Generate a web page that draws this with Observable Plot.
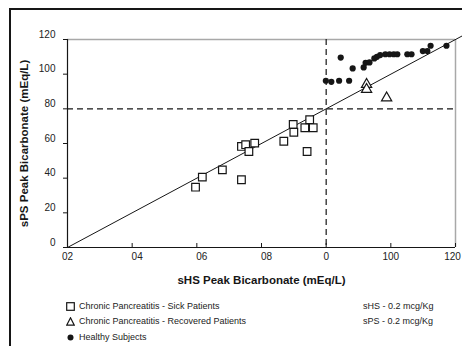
<!DOCTYPE html>
<html>
<head>
<meta charset="utf-8">
<script src="https://cdn.jsdelivr.net/npm/d3@7"></script>
<script src="https://cdn.jsdelivr.net/npm/@observablehq/plot@0.6"></script>
<style>
  html, body { margin: 0; padding: 0; background: #fff; }
  #wrap { position: relative; width: 462px; height: 346px; overflow: hidden; font-family: "Liberation Sans", Arial, sans-serif; color: #222; }
  #border { position: absolute; left: 9px; top: 8px; width: 600px; height: 500px; border: 2px solid #161616; box-sizing: border-box; }
  #chart { position: absolute; left: 0; top: 0; }
  .row { position: absolute; font-size: 9px; line-height: 12px; white-space: nowrap; display: flex; align-items: center; }
  .row svg { margin-right: 4px; }
</style>
</head>
<body>
<div id="wrap">
  <div id="border"></div>
  <div id="chart"></div>
  <div id="legend"></div>
</div>
<script>
// ---- data ----
const xTicks = [0, 20, 40, 60, 80, 100, 120];
const xTickLabels = ["02", "04", "06", "08", "0", "100", "120"];
const yTicks = [0, 20, 40, 60, 80, 100, 120];
const cutoff = [80];
const identityLine = [0, 122];

const sickX = [39.6, 41.7, 47.9, 53.8, 55.1, 56.1, 57.9, 53.8, 66.9, 69.8, 70.0, 73.4, 74.9, 76.0, 74.1];
const sickY = [34.8, 40.6, 44.8, 58.3, 59.3, 55.4, 60.2, 39.1, 61.3, 71.0, 66.5, 69.1, 73.7, 69.1, 55.4];

const recoveredX = [92.5, 92.5, 98.7];
const recoveredY = [94.1, 91.2, 86.3];

const healthyX = [79.9, 81.6, 84.0, 87.1, 84.5, 88.2, 91.6, 92.2, 93.4, 94.9, 95.7, 96.7, 98.3, 99.6, 100.9, 102.0, 105.1, 106.4, 109.9, 111.3, 112.3, 117.2];
const healthyY = [96.2, 95.6, 96.2, 96.2, 109.6, 103.3, 103.9, 106.6, 106.8, 109.1, 110.0, 111.0, 111.5, 111.5, 111.5, 111.5, 111.5, 111.5, 113.3, 113.3, 116.4, 116.4];

const xTitle = "sHS Peak Bicarbonate (mEq/L)";
const yTitle = "sPS Peak Bicarbonate (mEq/L)";
const legendLabels = ["Chronic Pancreatitis - Sick Patients", "Chronic Pancreatitis - Recovered Patients", "Healthy Subjects"];
const noteLabels = ["sHS - 0.2 mcg/Kg", "sPS - 0.2 mcg/Kg"];

// ---- build tables ----
const sick = sickX.map((x, i) => ({x, y: sickY[i]}));
const recovered = recoveredX.map((x, i) => ({x, y: recoveredY[i]}));
const healthy = healthyX.map((x, i) => ({x, y: healthyY[i]}));
const xLabel = d => xTickLabels[xTicks.indexOf(d)];
// tick label groups (the original labels sit slightly off their ticks)
const last = xTicks.length - 1;
const xLabA = xTicks.filter((d, i) => i === 0 || (xTickLabels[i].length !== 2 && i < last));
const xLabB = xTicks.filter((d, i) => i > 0 && xTickLabels[i].length === 2);
const xLabC = xTicks.slice(-1);

const ink = "#161616";
const xText = (data, dx) => Plot.text(data, {x: d => d, text: xLabel, frameAnchor: "bottom", lineAnchor: "top", dy: 5, dx, fill: "#222"});

const chart = Plot.plot({
  width: 462,
  height: 290,
  marginLeft: 67,
  marginRight: 7,
  marginTop: 39,
  marginBottom: 43,
  x: {domain: [0, 120]},
  y: {domain: [0, 120]},
  style: {fontFamily: "Liberation Sans, Arial, sans-serif", fontSize: "10px", color: "#222", background: "transparent", overflow: "visible"},
  marks: [
    Plot.ruleY([yTicks[yTicks.length - 1]], {stroke: "#a8a8a8", strokeWidth: 1.5}),
    Plot.ruleX([xTicks[last]], {stroke: "#a8a8a8", strokeWidth: 1.5}),
    Plot.ruleX(cutoff, {x: d => d, stroke: ink, strokeWidth: 1.2, strokeDasharray: "6,4"}),
    Plot.ruleY(cutoff, {y: d => d, stroke: ink, strokeWidth: 1.2, strokeDasharray: "6,4"}),
    Plot.line(identityLine, {x: d => d, y: d => d, stroke: ink, strokeWidth: 1}),
    Plot.dot(sick, {x: "x", y: "y", symbol: "square", r: 4.3, fill: "white", stroke: ink, strokeWidth: 1.2}),
    Plot.dot(recovered, {x: "x", y: "y", symbol: "triangle", r: 3.8, fill: "white", stroke: ink, strokeWidth: 1.2}),
    Plot.dot(healthy, {x: "x", y: "y", symbol: "circle", r: 3.1, fill: ink, stroke: "none"}),
    Plot.ruleX([0], {stroke: ink, strokeWidth: 1.2}),
    Plot.ruleY([0], {stroke: ink, strokeWidth: 1.2}),
    // y ticks (outside) and labels (raised)
    Plot.axisY({ticks: yTicks, tickSize: 4, tickFormat: () => "", label: null, stroke: ink}),
    Plot.axisY({ticks: yTicks, tickSize: 0, tickPadding: 12, dy: -5, label: null, fill: "#222"}),
    // x ticks (inside) and labels
    Plot.axisX({ticks: xTicks, tickSize: -4, tickFormat: () => "", label: null, stroke: ink}),
    xText(xLabA, 0),
    xText(xLabB, 5),
    xText(xLabC, -3),
    Plot.text([yTitle], {frameAnchor: "left", dx: -43, rotate: -90, textAnchor: "middle", fontWeight: "bold", fontSize: 11.5, fill: ink}),
    Plot.text([xTitle], {frameAnchor: "bottom", dy: 36, fontWeight: "bold", fontSize: 11.5, fill: ink})
  ]
});
document.getElementById("chart").appendChild(chart);

// ---- legend ----
const legend = document.getElementById("legend");
const symbols = [
  '<svg width="9" height="9" viewBox="0 0 9 9"><rect x="0.7" y="0.7" width="7.6" height="7.6" fill="white" stroke="#161616" stroke-width="1.2"/></svg>',
  '<svg width="9" height="9" viewBox="0 0 9 9"><path d="M4.5,0.8 L8.3,8.2 L0.7,8.2 Z" fill="white" stroke="#161616" stroke-width="1.2"/></svg>',
  '<svg width="9" height="9" viewBox="0 0 9 9"><circle cx="4.5" cy="4.5" r="3" fill="#161616"/></svg>'
];
const rowTops = [300, 315, 331];
legendLabels.forEach((t, i) => {
  const d = document.createElement("div");
  d.className = "row";
  d.style.left = "66px";
  d.style.top = rowTops[i] + "px";
  d.innerHTML = symbols[i] + "<span></span>";
  d.querySelector("span").textContent = t;
  legend.appendChild(d);
});
noteLabels.forEach((t, i) => {
  const d = document.createElement("div");
  d.className = "row";
  d.style.left = "363px";
  d.style.top = rowTops[i] + "px";
  d.textContent = t;
  legend.appendChild(d);
});
</script>
</body>
</html>
